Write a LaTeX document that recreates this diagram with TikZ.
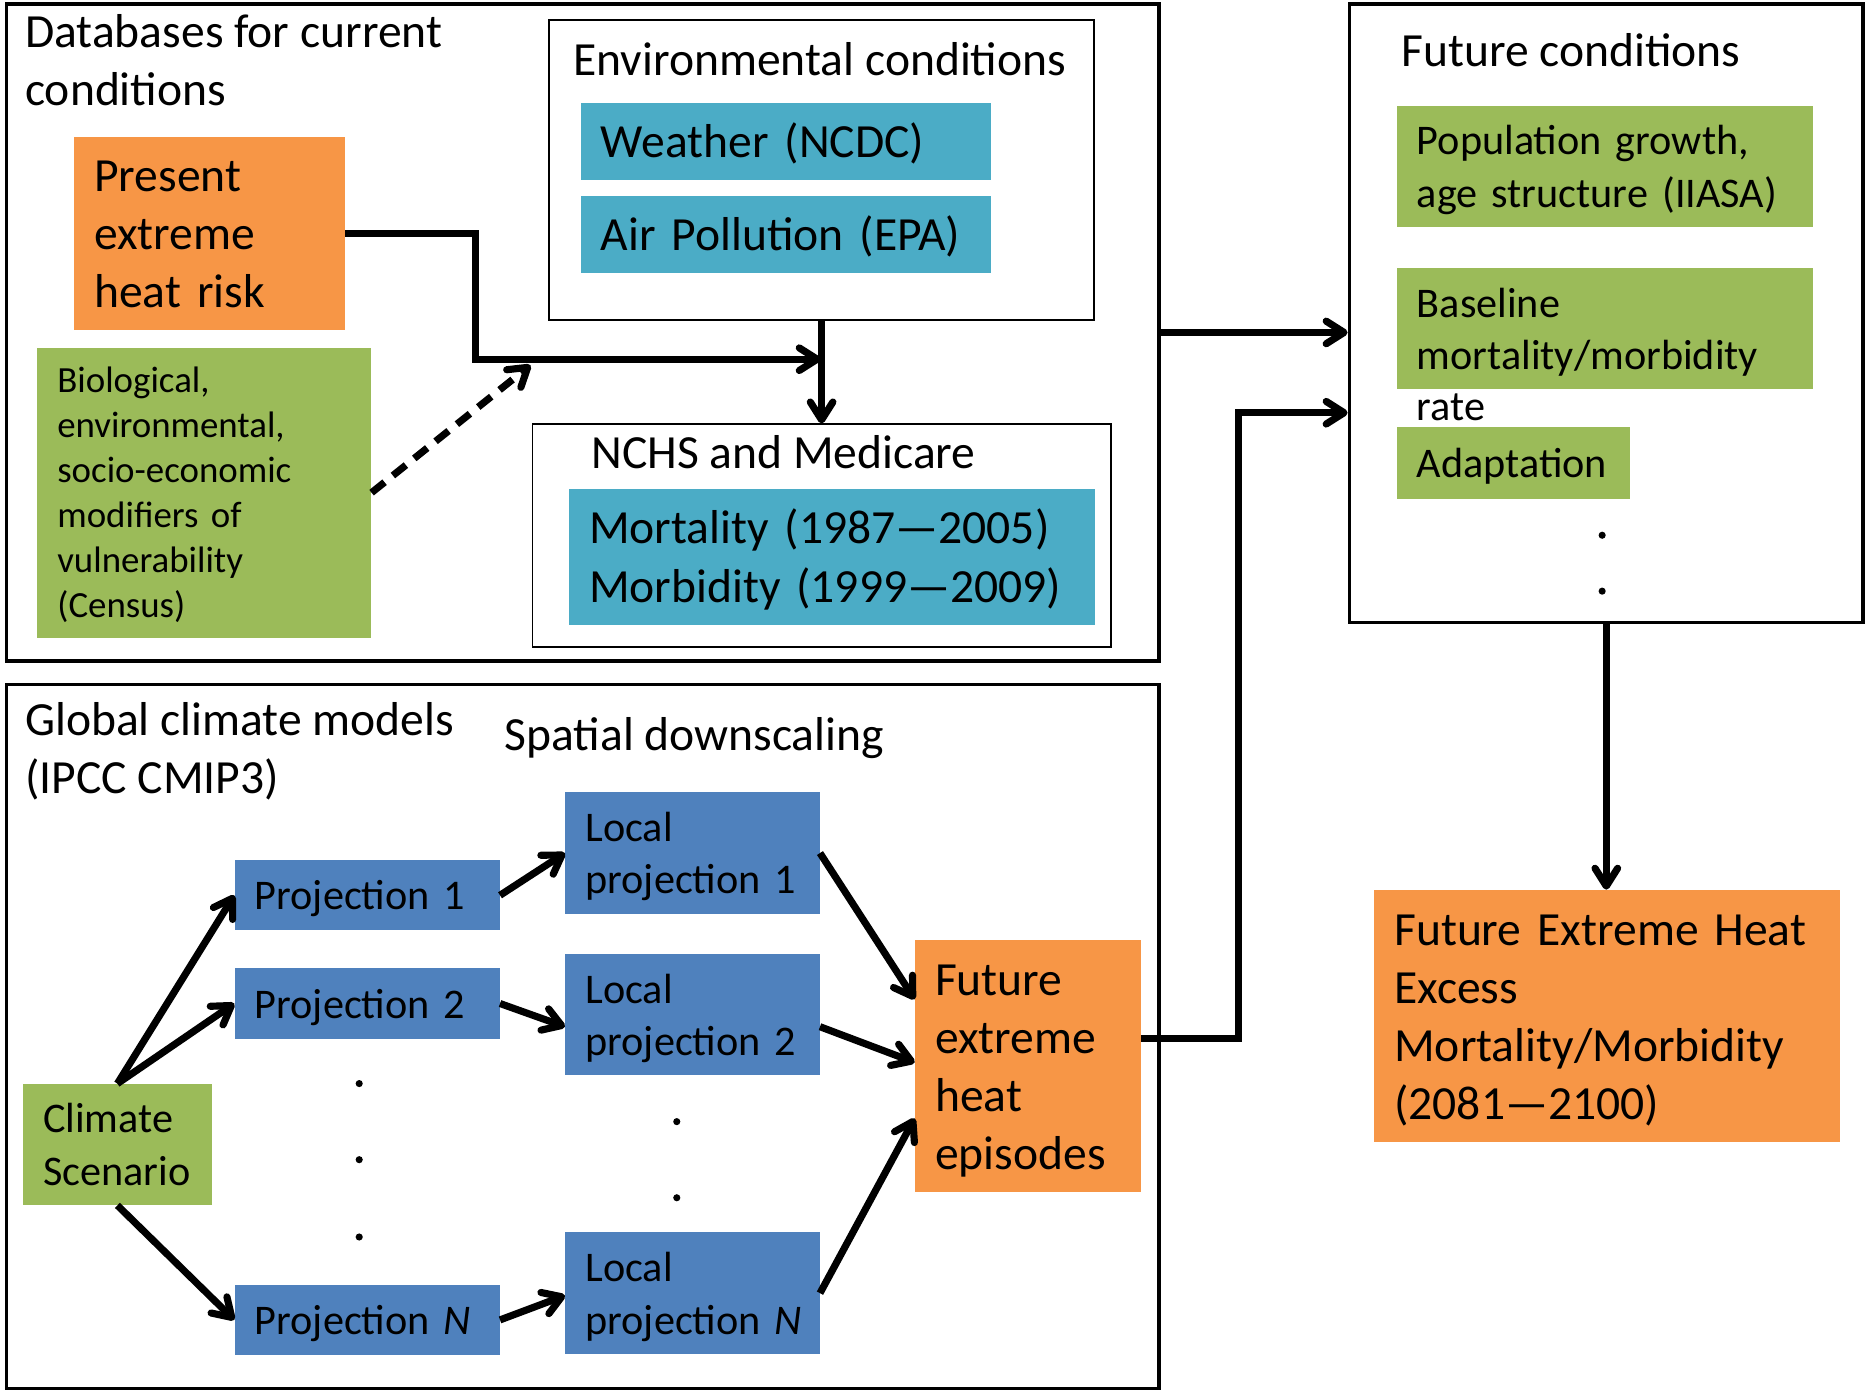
\documentclass[tikz,border=0pt]{standalone}
\usepackage{fontspec}
\setmainfont{Carlito}
\usetikzlibrary{arrows.meta}
\definecolor{orng}{HTML}{F79646}
\definecolor{grn}{HTML}{9BBB59}
\definecolor{cyn}{HTML}{4BACC6}
\definecolor{blu}{HTML}{4F81BD}
\newcommand\sizeL{\fontsize{40}{48.8}\selectfont}
\newcommand\sizeM{\fontsize{35.5}{43.3}\selectfont}
\newcommand\sizeS{\fontsize{31}{37.8}\selectfont}
\newcommand\tstrut{\rule[-0.265em]{0pt}{1.22em}}
\begin{document}
\begin{tikzpicture}[x=1pt,y=-1pt,
  frame/.style={draw, line width=3pt, anchor=north west, inner sep=0pt},
  thinframe/.style={draw, line width=1.5pt, anchor=north west, inner sep=0pt},
  fbox/.style={anchor=north west, inner xsep=17pt, inner ysep=0pt, align=left,
    execute at begin node=\tstrut, execute at end node=\tstrut},
  hdr/.style={anchor=west, inner sep=0pt, align=left,
    execute at begin node=\tstrut, execute at end node=\tstrut},
  conn/.style={line width=6pt},
  arr/.style={conn, -{Straight Barb[length=15pt,width=19pt,round]}},
  dot/.style={fill=black}
]
\useasboundingbox (0,0) rectangle (1568,1175);

% ---- outer frames
\node[frame, minimum width=969pt, minimum height=552pt] (db) at (4,2) {};
\node[frame, minimum width=432pt, minimum height=520pt] (fc) at (1133,2) {};
\node[frame, minimum width=969pt, minimum height=592pt] (gcm) at (4,574) {};
\node[thinframe, minimum width=458pt, minimum height=252pt] (env) at (461,16) {};
\node[thinframe, minimum width=486pt, minimum height=187pt] (nchs) at (447,356) {};

% ---- headers
\node[hdr, font=\sizeL] (dbt) at (21,55.5) {Databases for current\\conditions};
\node[hdr, font=\sizeL] (envt) at (482,50) {Environmental conditions};
\node[hdr, font=\sizeL] (nchst) at (497,380) {NCHS and Medicare};
\node[hdr, font=\sizeL] (fct) at (1178,42) {Future conditions};
\node[hdr, font=\sizeL] (gcmt) at (21,634.5) {Global climate models\\(IPCC CMIP3)};
\node[hdr, font=\sizeL] (sdt) at (424,617) {Spatial downscaling};

% ---- current conditions
\node[fbox, fill=orng, font=\sizeL, minimum width=228pt, minimum height=162pt, text width=194pt] (pres) at (62,115) {Present\\extreme\\heat risk};
\node[fbox, fill=grn, font=\sizeS, minimum width=281pt, minimum height=244pt, text width=247pt] (bio) at (31,292) {Biological,\\environmental,\\socio-economic\\modifiers of\\vulnerability\\(Census)};
\node[fbox, fill=cyn, font=\sizeL, minimum width=345pt, minimum height=65pt, text width=311pt] (wea) at (488,86) {Weather (NCDC)};
\node[fbox, fill=cyn, font=\sizeL, minimum width=345pt, minimum height=64pt, text width=311pt] (air) at (488,165) {Air Pollution (EPA)};
\node[fbox, fill=cyn, font=\sizeL, minimum width=442pt, minimum height=114pt, text width=408pt] (mort) at (478,411) {Mortality (1987—2005)\\Morbidity (1999—2009)};

% ---- future conditions
\node[fbox, fill=grn, font=\sizeM, minimum width=350pt, minimum height=102pt, text width=316pt] (pop) at (1174,89) {Population growth,\\age structure (IIASA)};
\node[anchor=north west, fill=grn, inner sep=0pt, minimum width=350pt, minimum height=102pt] (base) at (1174,225) {};
\node[fbox, font=\sizeM, text width=316pt] (basetxt) at (1174,233) {Baseline\\mortality/morbidity\\rate};
\node[fbox, fill=grn, font=\sizeM, minimum width=196pt, minimum height=60pt, text width=162pt] (adapt) at (1174,359) {Adaptation};
\fill[dot] (1347,450) circle (3pt);
\fill[dot] (1347,497) circle (3pt);

\node[fbox, fill=orng, font=\sizeL, minimum width=392pt, minimum height=212pt, text width=358pt] (feh) at (1155,748) {Future Extreme Heat\\Excess\\Mortality/Morbidity\\(2081—2100)};

% ---- climate models
\node[fbox, fill=grn, font=\sizeM, minimum width=159pt, minimum height=102pt, text width=125pt] (cs) at (19,911) {Climate\\Scenario};
\node[fbox, fill=blu, font=\sizeM, minimum width=223pt, minimum height=59pt, text width=189pt] (p1) at (197,723) {Projection 1};
\node[fbox, fill=blu, font=\sizeM, minimum width=223pt, minimum height=59pt, text width=189pt] (p2) at (197,814) {Projection 2};
\node[fbox, fill=blu, font=\sizeM, minimum width=223pt, minimum height=59pt, text width=189pt] (pN) at (197,1080) {Projection~\textit{N}};
\node[fbox, fill=blu, font=\sizeM, minimum width=214pt, minimum height=102pt, text width=180pt] (lp1) at (475,666) {Local\\projection~1};
\node[fbox, fill=blu, font=\sizeM, minimum width=214pt, minimum height=102pt, text width=180pt] (lp2) at (475,802) {Local\\projection~2};
\node[fbox, fill=blu, font=\sizeM, minimum width=214pt, minimum height=102pt, text width=180pt] (lpN) at (475,1036) {Local\\projection~\textit{N}};
\node[fbox, fill=orng, font=\sizeL, minimum width=190pt, minimum height=212pt, text width=156pt] (fe) at (769,790) {Future\\extreme\\heat\\episodes};
\foreach \yy in {911,975,1040} \fill[dot] (302,\yy) circle (3pt);
\foreach \yy in {943,1007} \fill[dot] (569,\yy) circle (3pt);

% ---- connectors
\coordinate (bend) at (400,302);
\coordinate (j) at (690,302);
\coordinate (dend) at (446,307);
\coordinate (fbend) at (1041,347);
\draw[arr] (pres.east) -| (bend) -- (j);
\draw[arr] (env.south) -- (nchs.north);
\draw[arr, dash pattern=on 14pt off 9pt] (bio.east) -- (dend);
\draw[arr] (db.east) -- (db.east -| fc.west);
\draw[arr] ([yshift=23pt]fe.east) -| (fbend) -- (fbend -| fc.west);
\draw[arr] (fc.south) -- (fc.south |- feh.north);

\draw[arr] (cs.north) -- (p1.west);
\draw[arr] (cs.north) -- (p2.west);
\draw[arr] (cs.south) -- (pN.west);
\draw[arr] (p1.east) -- (lp1.west);
\draw[arr] (p2.east) -- ([yshift=-10pt]lp2.west);
\draw[arr] (pN.east) -- ([yshift=-2pt]lpN.west);
\draw[arr] (lp1.east) -- ([yshift=56pt]fe.west);
\draw[arr] ([yshift=-10pt]lp2.east) -- ([yshift=3pt]fe.west);
\draw[arr] (lpN.east) -- ([yshift=-44pt]fe.west);
\end{tikzpicture}
\end{document}
